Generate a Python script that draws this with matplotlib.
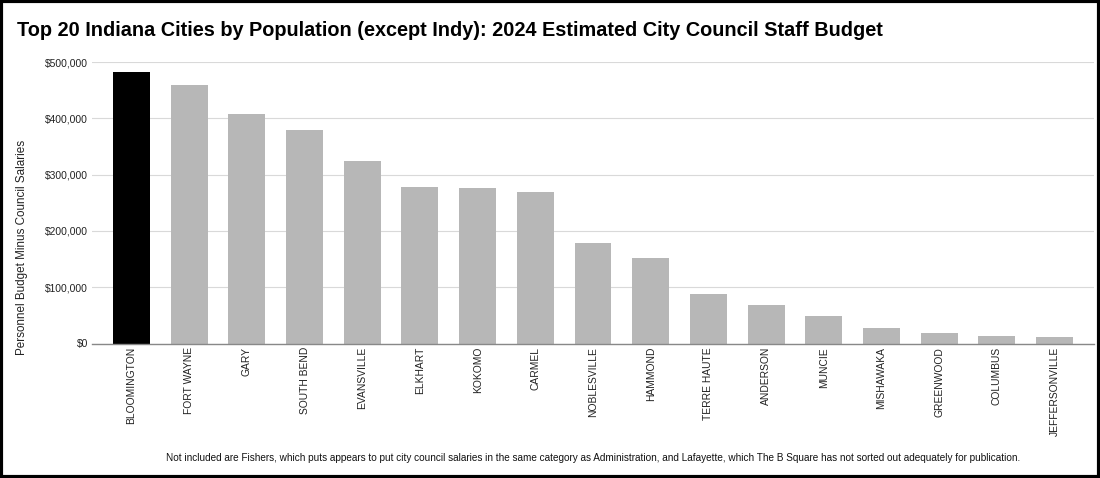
import numpy as np
import matplotlib.pyplot as plt
from matplotlib.patches import Rectangle
from matplotlib.ticker import FuncFormatter

plt.rcParams['font.family'] = ['Liberation Sans', 'DejaVu Sans']

# city council staff budget
cities = ['BLOOMINGTON', 'FORT WAYNE', 'GARY', 'SOUTH BEND', 'EVANSVILLE',
          'ELKHART', 'KOKOMO', 'CARMEL', 'NOBLESVILLE', 'HAMMOND',
          'TERRE HAUTE', 'ANDERSON', 'MUNCIE', 'MISHAWAKA', 'GREENWOOD',
          'COLUMBUS', 'JEFFERSONVILLE']
budget = [482000, 460000, 408000, 380000, 324000,
          278000, 276000, 269000, 178000, 152000,
          88000, 68000, 48000, 27000, 19000,
          14000, 11000]
yticks = [0, 100000, 200000, 300000, 400000, 500000]

fig = plt.figure(figsize=(11, 4.78), dpi=100)
ax = fig.add_axes([92/1100, 1 - 343.5/478, 1002/1100, (343.5 - 62)/478])

x = np.arange(len(cities))
colors = ['#000000'] + ['#b7b7b7'] * (len(cities) - 1)
ax.bar(x, budget, width=0.64, color=colors, zorder=3)

ax.set_xlim(-0.685, len(cities) - 1 + 0.685)
ax.set_ylim(0, 500000)
ax.set_yticks(yticks)
ax.yaxis.set_major_formatter(FuncFormatter(lambda v, p: f'${v:,.0f}'))
ax.set_xticks(x)
ax.set_xticklabels(cities, rotation=90, fontsize=7.4, color='#222222')
ax.tick_params(axis='y', labelsize=7.4, colors='#222222', length=0, pad=3)
ax.tick_params(axis='x', length=0, pad=2.5)

ax.grid(axis='y', color='#d9d9d9', linewidth=0.8, zorder=0)
for s in ['top', 'right', 'left']:
    ax.spines[s].set_visible(False)
ax.spines['bottom'].set_color('#888888')
ax.spines['bottom'].set_linewidth(1.0)
ax.spines['bottom'].set_zorder(4)

fig.text(17/1100, 1 - 36.5/478, 'Top 20 Indiana Cities by Population (except Indy): 2024 Estimated City Council Staff Budget',
         fontsize=14.35, fontweight='bold', ha='left', va='baseline')
fig.text(22/1100, 1 - 247/478, 'Personnel Budget Minus Council Salaries',
         fontsize=8.4, rotation=90, ha='center', va='center', color='#222222')
fig.text(593/1100, 1 - 461/478,
         'Not included are Fishers, which puts appears to put city council salaries in the same category as Administration, '
         'and Lafayette, which The B Square has not sorted out adequately for publication.',
         fontsize=7.2, ha='center', va='baseline', color='#111111')

# black frame round the whole picture
fig.patches.append(Rectangle((0.0012, 0.0028), 0.9976, 0.9944, transform=fig.transFigure,
                             fill=False, edgecolor='black', linewidth=3))

fig.savefig('out.png', dpi=100)
